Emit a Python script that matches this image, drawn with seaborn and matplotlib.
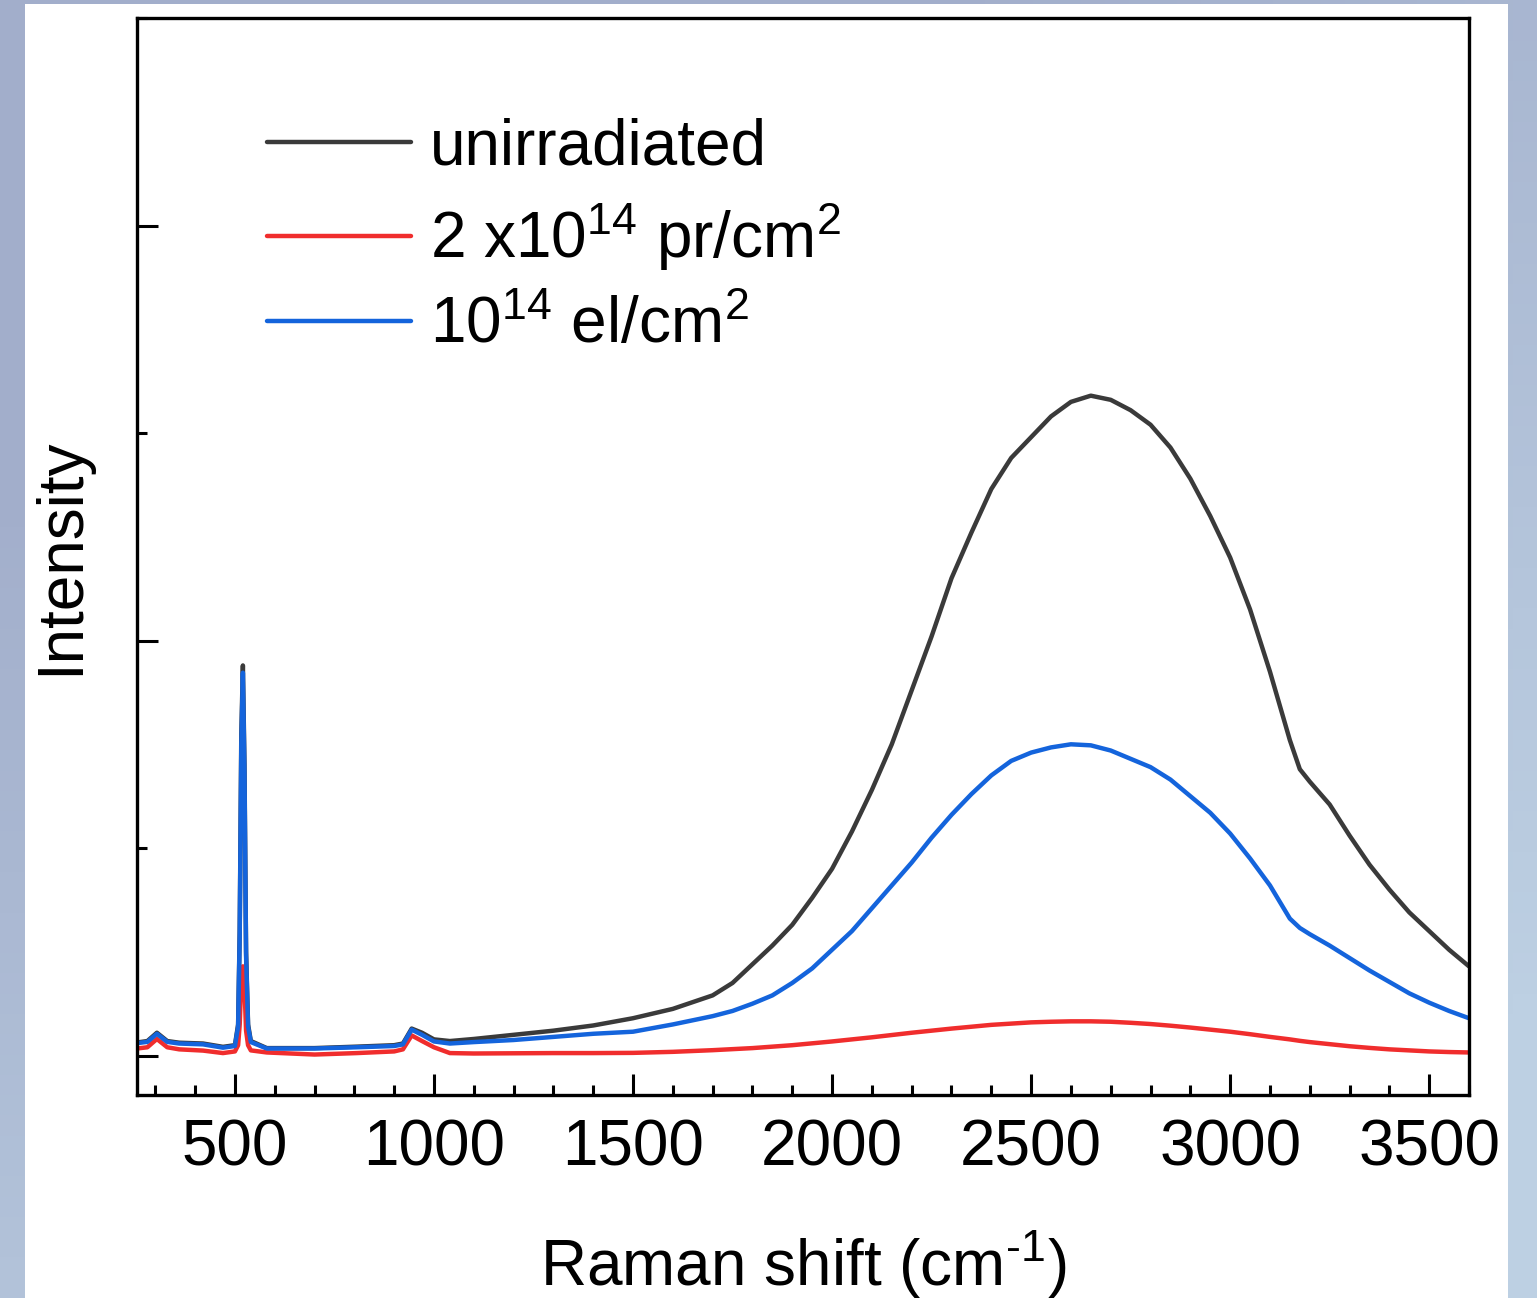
#!/usr/bin/env python3
# Raman spectra: unirradiated vs proton / electron irradiated samples

import numpy as np
import pandas as pd
import matplotlib
matplotlib.use("Agg")
import matplotlib.pyplot as plt
from matplotlib.patches import Rectangle
from matplotlib.colors import LinearSegmentedColormap
from matplotlib.ticker import MultipleLocator, NullFormatter
import seaborn as sns

# Raman shift (cm-1) and intensity (arb. units)
low_shift = [254, 280, 304, 330, 360, 420, 470, 500, 508, 512, 516, 520, 524, 528, 533,
             540, 580, 700, 806, 900, 922, 944, 970, 1000, 1040, 1100, 1200, 1300, 1400]
hump_shift = [1500, 1600, 1700, 1750, 1800, 1850, 1900, 1950, 2000, 2050, 2100, 2150,
              2200, 2250, 2300, 2350, 2400, 2450, 2500, 2550, 2600, 2650, 2700, 2750,
              2800, 2850, 2900, 2950, 3000, 3050, 3100, 3150, 3175, 3200, 3250, 3300,
              3350, 3400, 3450, 3500, 3550, 3600]

black_low = [0.063, 0.070, 0.110, 0.070, 0.062, 0.058, 0.042, 0.050, 0.15, 0.60, 1.55,
             1.88, 1.40, 0.50, 0.15, 0.070, 0.036, 0.036, 0.043, 0.050, 0.058, 0.130,
             0.110, 0.078, 0.070, 0.080, 0.100, 0.120, 0.145]
black_hump = [0.180, 0.225, 0.290, 0.350, 0.440, 0.530, 0.630, 0.760, 0.900, 1.08, 1.28,
              1.50, 1.76, 2.02, 2.30, 2.52, 2.73, 2.88, 2.98, 3.08, 3.15, 3.18, 3.16, 3.11,
              3.04, 2.93, 2.78, 2.60, 2.40, 2.15, 1.85, 1.52, 1.38, 1.32, 1.21, 1.06, 0.92,
              0.80, 0.69, 0.60, 0.51, 0.43]

red_low = [0.034, 0.040, 0.080, 0.040, 0.030, 0.024, 0.012, 0.020, 0.05, 0.15, 0.36,
           0.43, 0.33, 0.12, 0.05, 0.025, 0.015, 0.005, 0.012, 0.020, 0.030, 0.097,
           0.070, 0.040, 0.012, 0.010, 0.011, 0.012, 0.012]
red_hump = [0.013, 0.018, 0.026, 0.031, 0.036, 0.043, 0.050, 0.059, 0.068, 0.078, 0.088,
            0.099, 0.110, 0.120, 0.130, 0.139, 0.148, 0.154, 0.160, 0.163, 0.165, 0.165,
            0.163, 0.158, 0.152, 0.144, 0.135, 0.125, 0.115, 0.103, 0.090, 0.078, 0.071,
            0.065, 0.055, 0.045, 0.037, 0.030, 0.025, 0.020, 0.017, 0.015]

blue_low = [0.060, 0.066, 0.105, 0.066, 0.058, 0.054, 0.038, 0.046, 0.14, 0.58, 1.50,
            1.845, 1.36, 0.48, 0.14, 0.065, 0.034, 0.034, 0.040, 0.046, 0.054, 0.125,
            0.100, 0.068, 0.058, 0.065, 0.075, 0.090, 0.105]
blue_hump = [0.115, 0.150, 0.190, 0.215, 0.250, 0.290, 0.350, 0.420, 0.510, 0.600, 0.710,
             0.820, 0.930, 1.05, 1.16, 1.26, 1.35, 1.42, 1.46, 1.485, 1.50, 1.495, 1.47,
             1.43, 1.39, 1.33, 1.25, 1.17, 1.07, 0.95, 0.82, 0.66, 0.615, 0.585, 0.53,
             0.47, 0.41, 0.355, 0.30, 0.255, 0.215, 0.18]

labels = ["unirradiated",
          r"2 x10$^{14}$ pr/cm$^{2}$",
          r"10$^{14}$ el/cm$^{2}$"]
colors = ["#3a3a3a", "#f02d2d", "#1464dc"]

shift = low_shift + hump_shift
df = pd.concat([
    pd.DataFrame({"shift": shift, "intensity": black_low + black_hump, "sample": labels[0]}),
    pd.DataFrame({"shift": shift, "intensity": red_low + red_hump, "sample": labels[1]}),
    pd.DataFrame({"shift": shift, "intensity": blue_low + blue_hump, "sample": labels[2]}),
], ignore_index=True)

sns.set_style("ticks")
plt.rcParams["font.family"] = ["Liberation Sans", "DejaVu Sans"]
plt.rcParams["mathtext.fontset"] = "custom"
plt.rcParams["mathtext.rm"] = "Liberation Sans"
plt.rcParams["mathtext.it"] = "Liberation Sans"
for k in ["text.color", "axes.labelcolor", "xtick.color", "ytick.color", "axes.edgecolor"]:
    plt.rcParams[k] = "black"

fig = plt.figure(figsize=(15.37, 12.98), dpi=100, facecolor="#a2aecb")

# soft blue-grey backdrop, lighter towards the lower left
bg = fig.add_axes([0, 0, 1, 1], zorder=-20)
gx, gy = np.meshgrid(np.linspace(0, 1, 64), np.linspace(0, 1, 64))
bg.imshow(np.clip(1.2 * (gx * 0.5 + gy * 0.8) - 0.35, 0, 1), cmap=LinearSegmentedColormap.from_list(
    "bgc", ["#a2aecb", "#bdd0e3"]), aspect="auto", extent=[0, 1, 0, 1], origin="upper")
bg.set_axis_off()

panel = Rectangle((25 / 1537, 0), 1483 / 1537, 1294 / 1298,
                  transform=fig.transFigure, facecolor="white",
                  edgecolor="none", zorder=-10)
fig.add_artist(panel)
ax = fig.add_axes([137 / 1537, 203 / 1298, 1332 / 1537, 1077 / 1298])
ax.set_zorder(5)
ax.set_facecolor("white")

sns.lineplot(data=df, x="shift", y="intensity", hue="sample", hue_order=labels,
             palette=colors, estimator=None, linewidth=3.2, ax=ax, legend=False)

ax.set_xlim(254, 3600)
ax.set_ylim(-0.19, 5.0)
ax.xaxis.set_major_locator(MultipleLocator(500))
ax.xaxis.set_minor_locator(MultipleLocator(100))
ax.yaxis.set_major_locator(MultipleLocator(2))
ax.yaxis.set_minor_locator(MultipleLocator(1))
ax.yaxis.set_major_formatter(NullFormatter())

ax.tick_params(axis="both", which="major", direction="in", length=15, width=2.2,
               labelsize=46, pad=17, color="black", labelcolor="black")
ax.tick_params(axis="both", which="minor", direction="in", length=7.5, width=2.2,
               color="black")
for sp in ax.spines.values():
    sp.set_linewidth(2.4)
    sp.set_color("black")

ax.set_xlabel(r"Raman shift (cm$^{\text{-1}}$)", fontsize=46, labelpad=36)
ax.set_ylabel("Intensity", fontsize=46, labelpad=16)

leg = ax.legend(ax.get_lines(), labels, loc="upper left", frameon=False, fontsize=46,
                handlelength=2.25, handletextpad=0.3, labelspacing=0.35,
                borderaxespad=0.3, bbox_to_anchor=(0.064, 0.949))
for h in leg.get_lines():
    h.set_linewidth(3.2)

fig.savefig("out.png", dpi=100, facecolor=fig.get_facecolor())
